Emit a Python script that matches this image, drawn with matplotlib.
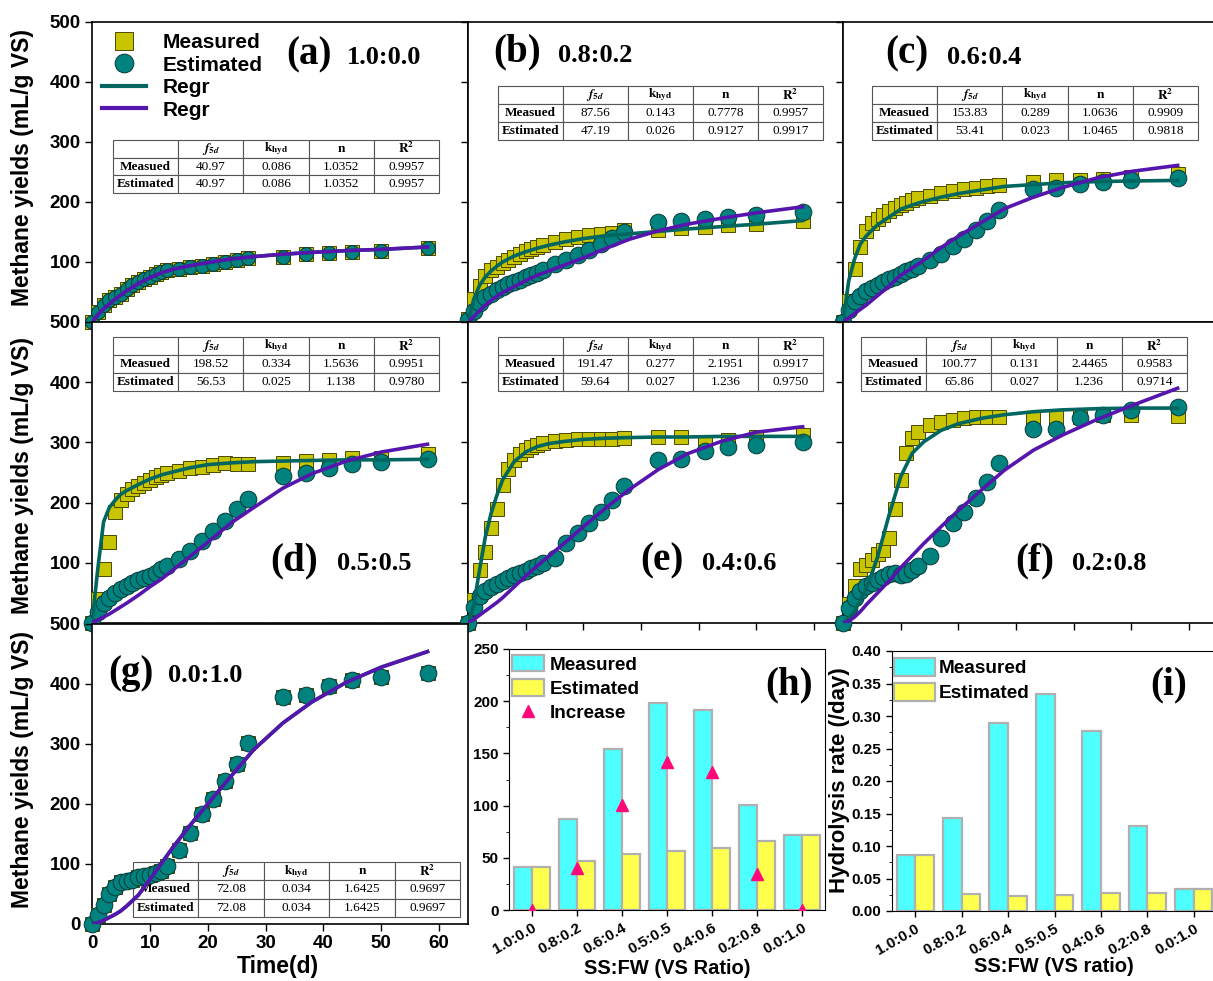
import matplotlib.pyplot as plt
import numpy as np
from matplotlib.lines import Line2D
from matplotlib.ticker import MultipleLocator

plt.rcParams['font.family'] = ['Liberation Sans', 'DejaVu Sans']
plt.rcParams['font.weight'] = 'bold'
plt.rcParams['mathtext.fontset'] = 'stix'

# ── data ────────────────────────────────────────────────────────────────────
days = [0, 1, 2, 3, 4, 5, 6, 7, 8, 9, 10, 11, 12, 13, 15, 17, 19, 21, 23, 25, 27, 33, 37, 41, 45, 50, 58]
fit_t = [0, 1, 2, 3, 4, 5, 6, 8, 10, 12, 14, 17, 20, 24, 28, 33, 38, 44, 50, 58]

meas_a = [0, 17, 28, 36, 42, 47, 55, 61, 66, 71, 75, 80, 83, 87, 89, 92, 94, 97, 100, 103, 107, 108, 113, 115, 117, 119, 123]
est_a = [0, 17, 28, 36, 42, 47, 55, 61, 66, 71, 75, 80, 83, 87, 89, 92, 94, 97, 100, 103, 107, 108, 113, 115, 117, 119, 123]
meas_b = [5, 38, 60, 76, 86, 92, 98, 103, 108, 113, 118, 122, 125, 129, 134, 139, 142, 145, 147, 149, 153, 153, 156, 158, 161, 164, 169]
est_b = [3, 19, 32, 41, 47, 53, 58, 63, 67, 70, 75, 78, 82, 86, 96, 104, 112, 120, 130, 140, 150, 167, 169, 172, 175, 178, 183]
meas_c = [0, 35, 88, 125, 152, 165, 172, 178, 185, 190, 195, 199, 203, 206, 210, 215, 218, 221, 224, 226, 228, 233, 236, 237, 239, 242, 246]
est_c = [0, 20, 35, 44, 52, 57, 61, 66, 71, 75, 80, 85, 89, 94, 103, 114, 126, 139, 153, 168, 186, 222, 223, 230, 233, 236, 240]
meas_d = [0, 40, 90, 135, 185, 205, 215, 222, 228, 233, 238, 242, 246, 249, 253, 257, 259, 262, 266, 264, 264, 266, 269, 270, 274, 274, 280]
est_d = [0, 19, 33, 42, 50, 56, 61, 67, 72, 75, 78, 83, 89, 94, 106, 119, 136, 153, 169, 189, 206, 244, 249, 257, 264, 267, 272]
meas_e = [0, 38, 88, 118, 157, 190, 230, 255, 270, 280, 287, 292, 296, 299, 303, 304, 305, 305, 306, 306, 308, 309, 309, 301, 304, 309, 312]
est_e = [0, 27, 45, 53, 59, 65, 70, 74, 79, 83, 87, 91, 95, 100, 108, 133, 149, 166, 185, 204, 227, 271, 273, 285, 293, 296, 301]
meas_f = [0, 31, 61, 89, 96, 104, 114, 122, 142, 189, 238, 282, 307, 318, 329, 334, 337, 340, 343, 343, 343, 340, 343, 343, 345, 345, 344]
est_f = [0, 25, 42, 53, 61, 67, 72, 76, 81, 83, 80, 82, 88, 95, 111, 141, 166, 185, 207, 235, 265, 323, 323, 340, 345, 354, 359]
meas_g = [0, 15, 32, 50, 62, 70, 72, 74, 78, 80, 82, 85, 88, 97, 123, 152, 183, 209, 238, 267, 301, 379, 381, 396, 406, 412, 418]
est_g = [0, 15, 32, 50, 62, 70, 72, 74, 78, 80, 82, 85, 88, 97, 123, 152, 183, 209, 238, 267, 301, 379, 381, 396, 406, 412, 418]

teal_a = [0, 12, 22, 30, 38, 45, 52, 64, 74, 82, 88, 94, 99, 105, 109, 113, 116, 119, 121, 125]
purp_a = [0, 12, 22, 30, 38, 45, 52, 64, 74, 82, 88, 94, 99, 105, 109, 113, 116, 119, 121, 125]
teal_b = [0, 38, 61, 75, 85, 93, 100, 110, 117, 123, 128, 134, 139, 144, 147, 151, 155, 159, 163, 169]
purp_b = [0, 9, 19, 28, 36, 43, 49, 59, 69, 78, 85, 96, 107, 123, 138, 152, 163, 173, 182, 192]
teal_c = [0, 69, 105, 130, 143, 153, 162, 175, 188, 195, 201, 208, 214, 220, 226, 229, 232, 234, 235, 236]
purp_c = [0, 7, 14, 21, 28, 36, 44, 60, 78, 90, 103, 124, 143, 166, 189, 208, 224, 240, 251, 261]
teal_d = [0, 90, 168, 192, 204, 214, 220, 230, 239, 246, 251, 258, 263, 266, 268, 269, 270, 271, 271, 272]
purp_d = [0, 5, 10, 15, 21, 27, 33, 46, 60, 73, 88, 111, 134, 166, 192, 224, 248, 269, 284, 297]
teal_e = [0, 30, 88, 143, 182, 212, 238, 268, 284, 293, 298, 302, 305, 307, 308, 309, 309, 310, 310, 310]
purp_e = [0, 6, 13, 20, 27, 34, 42, 60, 78, 95, 111, 135, 160, 192, 222, 255, 281, 302, 317, 326]
teal_f = [0, 8, 20, 38, 58, 82, 110, 180, 243, 282, 301, 320, 331, 340, 346, 351, 354, 356, 357, 357]
purp_f = [0, 3, 10, 19, 30, 40, 50, 70, 92, 112, 132, 160, 187, 221, 254, 287, 312, 338, 361, 390]
teal_g = [0, 2, 6, 11, 16, 22, 30, 48, 74, 101, 128, 165, 200, 246, 291, 335, 370, 403, 428, 454]
purp_g = [0, 2, 6, 11, 16, 22, 30, 48, 74, 101, 128, 165, 200, 246, 291, 335, 370, 403, 428, 454]

tab_a = [['40.97', '0.086', '1.0352', '0.9957'], ['40.97', '0.086', '1.0352', '0.9957']]
tab_b = [['87.56', '0.143', '0.7778', '0.9957'], ['47.19', '0.026', '0.9127', '0.9917']]
tab_c = [['153.83', '0.289', '1.0636', '0.9909'], ['53.41', '0.023', '1.0465', '0.9818']]
tab_d = [['198.52', '0.334', '1.5636', '0.9951'], ['56.53', '0.025', '1.138', '0.9780']]
tab_e = [['191.47', '0.277', '2.1951', '0.9917'], ['59.64', '0.027', '1.236', '0.9750']]
tab_f = [['100.77', '0.131', '2.4465', '0.9583'], ['65.86', '0.027', '1.236', '0.9714']]
tab_g = [['72.08', '0.034', '1.6425', '0.9697'], ['72.08', '0.034', '1.6425', '0.9697']]
tab_cols = ['', r'$f_{5d}$', r'$\mathbf{k_{hyd}}$', 'n', r'$\mathbf{R^2}$']
tab_rows = ['Measued', 'Estimated']

ratios = ['1.0:0.0', '0.8:0.2', '0.6:0.4', '0.5:0.5', '0.4:0.6', '0.2:0.8', '0.0:1.0']
f5d_meas = [40.97, 87.56, 153.83, 198.52, 191.47, 100.77, 72.08]
f5d_est = [40.97, 47.19, 53.41, 56.53, 59.64, 65.86, 72.08]
f5d_incr = [0, 40.4, 100.4, 142.0, 131.8, 34.9, 0]
khyd_meas = [0.086, 0.143, 0.289, 0.334, 0.277, 0.131, 0.034]
khyd_est = [0.086, 0.026, 0.023, 0.025, 0.027, 0.027, 0.034]

# ── style ───────────────────────────────────────────────────────────────────
SQ, SQ_EDGE = '#c8c400', '#4a4a00'
CI, CI_EDGE = '#00827e', '#063a38'
TEAL, PURP = '#00665f', '#5616ad'
CYAN, YELLOW, BAR_EDGE = '#4dffff', '#ffff4d', '#b0b0b0'
SERIF = 'Liberation Serif'

W, H = 1213, 981
fig = plt.figure(figsize=(W / 100, H / 100), dpi=100)


def px_box(x0, y0, x1, y1):
    return [x0 / W, 1 - y1 / H, (x1 - x0) / W, (y1 - y0) / H]


def fx(x):
    return x / W


def fy(y):
    return 1 - y / H


cols = [(92, 468), (468, 843), (843, 1218)]
rows = [(22, 322), (322, 623), (624, 924)]

panels = [
    ('(a)', '1.0:0.0', 0, 0, meas_a, est_a, teal_a, purp_a, tab_a, (113, 140, 439, 193), (286, 55), (347, 58)),
    ('(b)', '0.8:0.2', 0, 1, meas_b, est_b, teal_b, purp_b, tab_b, (498, 86, 823, 140), (493, 52), (558, 55)),
    ('(c)', '0.6:0.4', 0, 2, meas_c, est_c, teal_c, purp_c, tab_c, (872, 86, 1198, 140), (885, 54), (947, 57)),
    ('(d)', '0.5:0.5', 1, 0, meas_d, est_d, teal_d, purp_d, tab_d, (113, 337, 439, 391), (270, 561), (337, 564)),
    ('(e)', '0.4:0.6', 1, 1, meas_e, est_e, teal_e, purp_e, tab_e, (498, 337, 823, 391), (640, 561), (702, 564)),
    ('(f)', '0.2:0.8', 1, 2, meas_f, est_f, teal_f, purp_f, tab_f, (861, 337, 1187, 391), (1015, 561), (1072, 564)),
    ('(g)', '0.0:1.0', 2, 0, meas_g, est_g, teal_g, purp_g, tab_g, (133, 862, 460, 917), (108, 673), (168, 676)),
]

for label, ratio, r, c, meas, est, teal, purp, tab, tbox, lab_xy, rat_xy in panels:
    x0, x1 = cols[c]
    y0, y1 = rows[r]
    ax = fig.add_axes(px_box(x0, y0, x1, y1))
    small = label == '(a)'
    ax.plot(days, meas, 's', ms=9.5 if small else 10.5, mfc=SQ, mec=SQ_EDGE, mew=0.7,
            zorder=3, clip_on=False)
    ax.plot(days, est, 'o', ms=10 if small else 12, mfc=CI, mec=CI_EDGE, mew=0.7,
            zorder=4, clip_on=False)
    ax.plot(fit_t, teal, color=TEAL, lw=2.6, zorder=5)
    ax.plot(fit_t, purp, color=PURP, lw=2.6, zorder=6)
    ax.set_xlim(0, 65)
    ax.set_ylim(0, 500)
    ax.set_xticks(range(0, 61, 10))
    ax.set_yticks(range(0, 501, 100))
    if c == 0 and r < 2:
        # the "0" sits under the "500" of the panel below
        ax.set_yticklabels([''] + [str(v) for v in range(100, 501, 100)])
    ax.tick_params(direction='out', length=5, width=1, labelsize=13.5, pad=3)
    ax.tick_params(labelleft=(c == 0), labelbottom=(r == 2))
    for lab in ax.get_xticklabels() + ax.get_yticklabels():
        lab.set_fontweight('bold')
    for sp in ax.spines.values():
        sp.set_linewidth(1.2)

    # parameter table
    tx0, ty0, tx1, ty1 = tbox
    bb = [(tx0 - x0) / (x1 - x0), (y1 - ty1) / (y1 - y0),
          (tx1 - tx0) / (x1 - x0), (ty1 - ty0) / (y1 - y0)]
    cell_text = [[tab_rows[i]] + tab[i] for i in range(2)]
    table = ax.table(cellText=cell_text, colLabels=tab_cols, cellLoc='center', bbox=bb)
    table.auto_set_font_size(False)
    table.set_fontsize(9.5)
    table.set_zorder(2)
    for (i, j), cell in table.get_celld().items():
        cell.set_edgecolor('#555555')
        cell.set_linewidth(0.8)
        cell.set_facecolor('white')
        txt = cell.get_text()
        txt.set_fontfamily(SERIF)
        txt.set_fontweight('bold' if (i == 0 or j == 0) else 'normal')

    fig.text(fx(lab_xy[0]), fy(lab_xy[1]), label, family=SERIF, weight='bold',
             fontsize=28, ha='left', va='center')
    fig.text(fx(rat_xy[0]), fy(rat_xy[1]), ratio, family=SERIF, weight='bold',
             fontsize=19, ha='left', va='center')

    if label == '(a)':
        handles = [
            Line2D([], [], marker='s', ls='none', ms=12.5, mfc=SQ, mec=SQ_EDGE, mew=0.7),
            Line2D([], [], marker='o', ls='none', ms=13.5, mfc=CI, mec=CI_EDGE, mew=0.7),
            Line2D([], [], color=TEAL, lw=3),
            Line2D([], [], color=PURP, lw=3),
        ]
        ax.legend(handles, ['Measured', 'Estimated', 'Regr', 'Regr'],
                  loc='upper left', bbox_to_anchor=(fx(102), fy(33)),
                  bbox_transform=fig.transFigure, frameon=False,
                  prop={'size': 15, 'weight': 'bold'}, handlelength=2.1,
                  handletextpad=0.8, labelspacing=0.17, borderpad=0, borderaxespad=0)

for yc in (168, 476, 770):
    fig.text(fx(23), fy(yc), 'Methane yields (mL/g VS)', rotation=90, fontsize=16.5,
             weight='bold', ha='center', va='center')
fig.text(fx(278), fy(967), 'Time(d)', fontsize=16.5, weight='bold', ha='center', va='center')

# ── (h) f5d bars ────────────────────────────────────────────────────────────
x = np.arange(len(ratios))
axh = fig.add_axes(px_box(509, 649, 825, 910))
b1 = axh.bar(x - 0.2, f5d_meas, 0.4, color=CYAN, edgecolor=BAR_EDGE, lw=1.6)
b2 = axh.bar(x + 0.2, f5d_est, 0.4, color=YELLOW, edgecolor=BAR_EDGE, lw=1.6)
tri, = axh.plot(x, f5d_incr, '^', ms=8, color='#ff0a78', ls='none', zorder=4)
axh.set_xlim(-0.5, 6.5)
axh.set_ylim(0, 250)
axh.yaxis.set_major_locator(MultipleLocator(50))
axh.yaxis.set_minor_locator(MultipleLocator(25))
axh.set_xticks(x)
axh.set_xticklabels(ratios, rotation=30, ha='right', rotation_mode='anchor')
axh.tick_params(direction='out', length=4, width=1, labelsize=11)
axh.tick_params(which='minor', direction='out', length=2.5)
axh.legend([b1, b2, tri], ['Measured', 'Estimated', 'Increase'],
           loc='upper left', bbox_to_anchor=(fx(512), fy(655)), bbox_transform=fig.transFigure,
           frameon=False, prop={'size': 13.6, 'weight': 'bold'}, handlelength=1.7,
           handleheight=0.95, handletextpad=0.3, labelspacing=0.3, borderpad=0,
           borderaxespad=0)
fig.text(fx(765), fy(685), '(h)', family=SERIF, weight='bold', fontsize=28, ha='left', va='center')
fig.text(fx(667), fy(968), 'SS:FW (VS Ratio)', fontsize=14.5, weight='bold', ha='center', va='center')

# ── (i) hydrolysis rate bars ───────────────────────────────────────────────
axi = fig.add_axes(px_box(892, 651, 1217, 911))
axi.bar(x - 0.2, khyd_meas, 0.4, color=CYAN, edgecolor=BAR_EDGE, lw=1.6, label='Measured')
axi.bar(x + 0.2, khyd_est, 0.4, color=YELLOW, edgecolor=BAR_EDGE, lw=1.6, label='Estimated')
axi.set_xlim(-0.5, 6.5)
axi.set_ylim(0, 0.40)
axi.yaxis.set_major_locator(MultipleLocator(0.05))
axi.yaxis.set_minor_locator(MultipleLocator(0.025))
axi.yaxis.set_major_formatter('{x:.2f}')
axi.set_xticks(x)
axi.set_xticklabels(ratios, rotation=30, ha='right', rotation_mode='anchor')
axi.tick_params(direction='out', length=4, width=1, labelsize=11)
axi.tick_params(which='minor', direction='out', length=2.5)
axi.legend(loc='upper left', bbox_to_anchor=(fx(894), fy(658)), bbox_transform=fig.transFigure,
           frameon=False, prop={'size': 13.7, 'weight': 'bold'}, handlelength=2.15,
           handleheight=1.05, handletextpad=0.2, labelspacing=0.3, borderpad=0,
           borderaxespad=0)
fig.text(fx(1150), fy(685), '(i)', family=SERIF, weight='bold', fontsize=28, ha='left', va='center')
fig.text(fx(1054), fy(967), 'SS:FW (VS ratio)', fontsize=14.5, weight='bold', ha='center', va='center')
fig.text(fx(840), fy(780), 'Hydrolysis rate (/day)', rotation=90, fontsize=16,
         weight='bold', ha='center', va='center')

for a in (axh, axi):
    for lab in a.get_xticklabels() + a.get_yticklabels():
        lab.set_fontweight('bold')

fig.savefig('out.png', dpi=100)
